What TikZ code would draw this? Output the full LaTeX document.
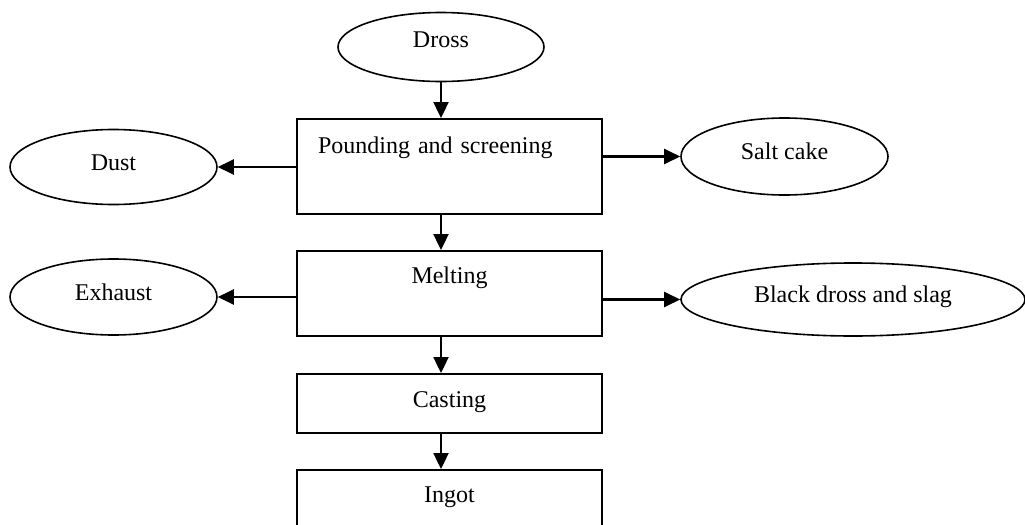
\documentclass[tikz,border=0pt]{standalone}
\usepackage{fontspec}
\setmainfont{Liberation Serif}
\usetikzlibrary{shapes.geometric,arrows.meta}

\begin{document}
\begin{tikzpicture}[x=0.5pt,y=-0.5pt,
                    font=\fontsize{12}{14}\selectfont,
                    out node/.style={ellipse,draw,line width=0.8pt,inner sep=0pt,text height=8pt,text depth=5pt},
                    proc box/.style={rectangle,draw,line width=0.8pt,inner sep=0pt,minimum width=152.5pt,anchor=north},
                    flow/.style={-{Triangle[length=8pt,width=7.5pt]},line width=1.2pt}]

  \useasboundingbox (0,0) rectangle (1025,525);
  \clip (0,0) rectangle (1025,525);

  \node[out node,minimum width=103pt,minimum height=34.5pt,text depth=8pt] (dross) at (441,47) {Dross};
  \node[proc box,text width=131.5pt,align=left,inner xsep=10.5pt,text height=17.5pt,text depth=30pt] (pound) at (449.5,118) {Pounding and screening};
  \node[proc box,text height=16.5pt,text depth=26pt] (melt) at (449.5,250) {Melting};
  \node[proc box,text height=16.8pt,text depth=12.7pt] (cast) at (449.5,373) {Casting};
  \node[proc box,text height=16.3pt,text depth=30pt] (ingot) at (449.5,469) {Ingot};

  \node[out node,minimum width=103.5pt,minimum height=37.5pt] (dust) at (113.5,167) {Dust};
  \node[out node,minimum width=103.5pt,minimum height=38.5pt] (salt) at (784.5,156.5) {Salt cake};
  \node[out node,minimum width=103.5pt,minimum height=38pt] (exhaust) at (113.5,297) {Exhaust};
  \node[out node,minimum width=172pt,minimum height=36.5pt] (slag) at (853,299.5) {Black dross and slag};

  \path[flow]
    (dross) edge (dross |- pound.north)
    (pound.south -| dross) edge (melt.north -| dross)
    (melt.south -| dross) edge (cast.north -| dross)
    (cast.south -| dross) edge (ingot.north -| dross)
    (pound.west |- dust) edge (dust)
    (pound.east |- salt) edge (salt)
    (melt.west |- exhaust) edge (exhaust)
    (melt.east |- slag) edge (slag);
\end{tikzpicture}
\end{document}
